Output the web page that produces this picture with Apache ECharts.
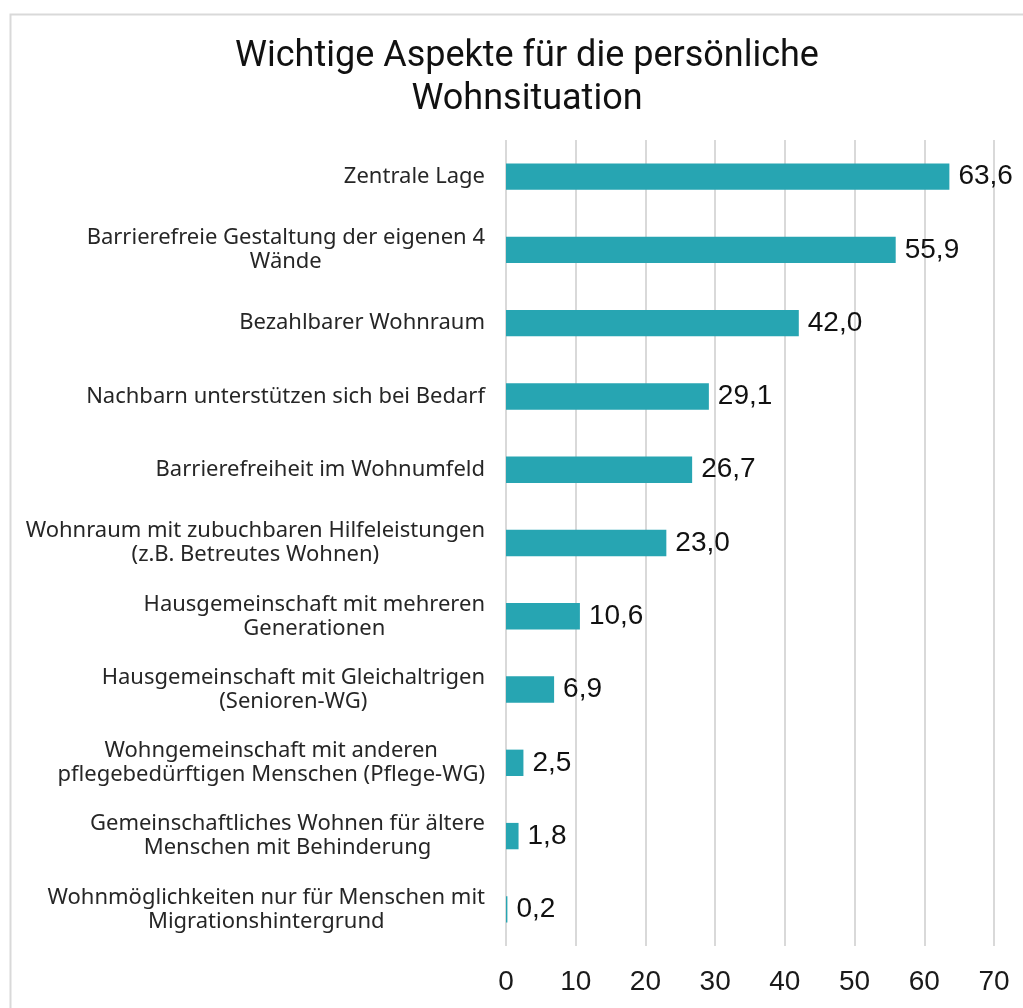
<!DOCTYPE html>
<html>
<head>
<meta charset="utf-8">
<script src="https://cdn.jsdelivr.net/npm/echarts@6/dist/echarts.min.js"></script>
<style>
	html, body{
		margin: 0;
		padding: 0;
		background: #fff;
	}
	#chart_box{
		width: 1023px;
		height: 1008px;
	}
</style>
</head>
<body>
<div id="chart_box"></div>
<script type="text/javascript">
var categories = [
	'Zentrale Lage',
	'Barrierefreie Gestaltung der eigenen 4\nWände',
	'Bezahlbarer Wohnraum',
	'Nachbarn unterstützen sich bei Bedarf',
	'Barrierefreiheit im Wohnumfeld',
	'Wohnraum mit zubuchbaren Hilfeleistungen\n(z.B. Betreutes Wohnen)',
	'Hausgemeinschaft mit mehreren\nGenerationen',
	'Hausgemeinschaft mit Gleichaltrigen\n(Senioren-WG)',
	'Wohngemeinschaft mit anderen\npflegebedürftigen Menschen (Pflege-WG)',
	'Gemeinschaftliches Wohnen für ältere\nMenschen mit Behinderung',
	'Wohnmöglichkeiten nur für Menschen mit\nMigrationshintergrund'
];
var values = [63.6, 55.9, 42.0, 29.1, 26.7, 23.0, 10.6, 6.9, 2.5, 1.8, 0.2];
var titleText = 'Wichtige Aspekte für die persönliche\nWohnsituation';

var myChart = echarts.init(document.getElementById('chart_box'));

var option = {
	animation: false,
	graphic: [
		{
			type: 'rect',
			shape: { x: 10.5, y: 14.5, width: 1100, height: 1100 },
			style: { fill: 'none', stroke: '#d9d9d9', lineWidth: 2 },
			silent: true
		}
	],
	title: {
		text: titleText,
		left: 522,
		textAlign: 'center',
		top: 30,
		textStyle: {
			fontFamily: 'Roboto, sans-serif',
			fontWeight: 'normal',
			fontSize: 36,
			lineHeight: 43,
			color: '#111'
		}
	},
	grid: {
		left: 506,
		right: 29,
		top: 140,
		bottom: 62
	},
	xAxis: {
		type: 'value',
		min: 0,
		max: 70,
		interval: 10,
		axisLine: { show: false },
		axisTick: { show: false },
		axisLabel: {
			margin: 22,
			fontSize: 28,
			color: '#1a1a1a',
			fontFamily: '"Liberation Sans", Arial, sans-serif'
		},
		splitLine: {
			lineStyle: { color: '#d9d9d9', width: 2 }
		}
	},
	yAxis: {
		type: 'category',
		inverse: true,
		data: categories,
		axisLine: { show: false },
		axisTick: { show: false },
		axisLabel: {
			margin: 21,
			align: 'right',
			formatter: function(val) {
				// each line centred inside the right-aligned block
				return val.split('\n').map(function(line) {
					return '{c|' + line + '}';
				}).join('\n');
			},
			rich: {
				c: {
					align: 'center',
					fontSize: 22,
					lineHeight: 24,
					color: '#262626',
					fontFamily: '"Noto Sans", "Open Sans", sans-serif'
				}
			}
		}
	},
	series: [
		{
			type: 'bar',
			data: values,
			barCategoryGap: '64%',
			itemStyle: { color: '#27a5b2' },
			label: {
				show: true,
				position: 'right',
				distance: 9,
				fontSize: 28,
				color: '#111',
				fontFamily: '"Liberation Sans", Arial, sans-serif',
				formatter: function(p) {
					return p.value.toFixed(1).replace('.', ',');
				}
			}
		}
	]
};
myChart.setOption(option);
</script>
</body>
</html>
